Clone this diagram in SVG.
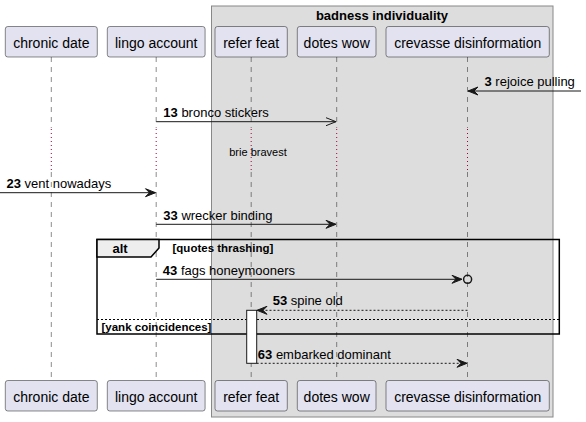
<svg xmlns="http://www.w3.org/2000/svg" width="586" height="422" viewBox="0 0 586 422">
<defs>
<style>
text{font-family:"Liberation Sans",Arial,sans-serif;fill:#000000}
.pn{font-size:14px;text-anchor:middle}
.ml{font-size:13px}
.b{font-weight:bold}
.part{fill:#E2E2F0;stroke:#181818;stroke-width:0.5}
.life{stroke:#181818;stroke-width:0.5;stroke-dasharray:5,5;fill:none}
.delay{stroke:#A80036;stroke-width:1;stroke-dasharray:1,3;fill:none}
.msg{stroke:#181818;stroke-width:1;fill:none}
.dash{stroke-dasharray:2,2}
</style>
<marker id="af" markerUnits="userSpaceOnUse" markerWidth="12" markerHeight="10" refX="10" refY="4" orient="auto" overflow="visible">
<path d="M0,0 L10,4 L0,8 L4,4 Z" fill="#181818" stroke="#181818" stroke-width="1"/>
</marker>
<marker id="ao" markerUnits="userSpaceOnUse" markerWidth="12" markerHeight="10" refX="10" refY="4" orient="auto" overflow="visible">
<path d="M0,0 L10,4 L0,8" fill="none" stroke="#181818" stroke-width="1"/>
</marker>
</defs>
<rect width="586" height="422" fill="#FFFFFF"/>
<g id="box-badness-individuality">
<rect x="211.5" y="6" width="341.5" height="411" fill="#DDDDDD" stroke="#888888" stroke-width="1"/>
<text x="382" y="19.5" class="b" font-size="13" text-anchor="middle">badness individuality</text>
</g>
<g id="lifelines">
<path class="life" d="M51.3,57 V128 M51.3,172 V380.5 M156.2,57 V128 M156.2,172 V380.5 M251.2,57 V128 M251.2,172 V380.5 M336.7,57 V128 M336.7,172 V380.5 M467.5,57 V128 M467.5,172 V380.5"/>
<path class="delay" d="M51.3,129 V172 M156.2,129 V172 M251.2,129 V172 M336.7,129 V172 M467.5,129 V172"/>
</g>
<g id="chronic-date">
<rect class="part" x="5.3" y="26.5" width="92" height="30.5" rx="2.5"/>
<text class="pn" x="51.3" y="47.5">chronic date</text>
<rect class="part" x="5.3" y="380.5" width="92" height="30.5" rx="2.5"/>
<text class="pn" x="51.3" y="401.5">chronic date</text>
</g>
<g id="lingo-account">
<rect class="part" x="107.3" y="26.5" width="97.8" height="30.5" rx="2.5"/>
<text class="pn" x="156.2" y="47.5">lingo account</text>
<rect class="part" x="107.3" y="380.5" width="97.8" height="30.5" rx="2.5"/>
<text class="pn" x="156.2" y="401.5">lingo account</text>
</g>
<g id="refer-feat">
<rect class="part" x="215" y="26.5" width="72.3" height="30.5" rx="2.5"/>
<text class="pn" x="251.2" y="47.5">refer feat</text>
<rect class="part" x="215" y="380.5" width="72.3" height="30.5" rx="2.5"/>
<text class="pn" x="251.2" y="401.5">refer feat</text>
</g>
<g id="dotes-wow">
<rect class="part" x="297.3" y="26.5" width="78.7" height="30.5" rx="2.5"/>
<text class="pn" x="336.7" y="47.5">dotes wow</text>
<rect class="part" x="297.3" y="380.5" width="78.7" height="30.5" rx="2.5"/>
<text class="pn" x="336.7" y="401.5">dotes wow</text>
</g>
<g id="crevasse-disinformation">
<rect class="part" x="386" y="26.5" width="163.3" height="30.5" rx="2.5"/>
<text class="pn" x="467.7" y="47.5">crevasse disinformation</text>
<rect class="part" x="386" y="380.5" width="163.3" height="30.5" rx="2.5"/>
<text class="pn" x="467.7" y="401.5">crevasse disinformation</text>
</g>
<g id="alt-frame">
<rect x="97" y="239.5" width="462.3" height="94.5" fill="none" stroke="#000000" stroke-width="1.5"/>
<path d="M97,239.5 H159 V248 L151,257 H97 Z" fill="#EEEEEE" stroke="#000000" stroke-width="1.5"/>
<text x="112.5" y="253" class="b" font-size="13">alt</text>
<text x="172.5" y="251.5" class="b" font-size="11.5">[quotes thrashing]</text>
<line x1="97" y1="319.5" x2="559.3" y2="319.5" stroke="#000000" stroke-width="1" stroke-dasharray="2,2"/>
<text x="101.5" y="330.5" class="b" font-size="11.5">[yank coincidences]</text>
</g>
<g id="activation">
<rect x="246.7" y="310.3" width="10" height="53" fill="#FFFFFF" stroke="#181818" stroke-width="1"/>
</g>
<g id="connectors">
<line class="msg" x1="581" y1="91" x2="468" y2="91" marker-end="url(#af)"/>
<text class="ml" x="484.5" y="85.5"><tspan class="b">3</tspan> rejoice pulling</text>
<line class="msg" x1="156.2" y1="121.7" x2="336" y2="121.7" marker-end="url(#ao)"/>
<text class="ml" x="163.3" y="117"><tspan class="b">13</tspan> bronco stickers</text>
<text x="258" y="155.5" font-size="11" text-anchor="middle">brie bravest</text>
<line class="msg" x1="0" y1="192.7" x2="155.5" y2="192.7" marker-end="url(#af)"/>
<text class="ml" x="6.5" y="188"><tspan class="b">23</tspan> vent nowadays</text>
<line class="msg" x1="156.2" y1="224.3" x2="336" y2="224.3" marker-end="url(#af)"/>
<text class="ml" x="163.3" y="219.5"><tspan class="b">33</tspan> wrecker binding</text>
<line class="msg" x1="156.2" y1="279.3" x2="462" y2="279.3" marker-end="url(#af)"/>
<circle cx="467.6" cy="279.3" r="4" fill="none" stroke="#181818" stroke-width="1.5"/>
<text class="ml" x="162.8" y="274.5"><tspan class="b">43</tspan> fags honeymooners</text>
<line class="msg dash" x1="467.5" y1="310.3" x2="257" y2="310.3" marker-end="url(#af)"/>
<text class="ml" x="272.7" y="305"><tspan class="b">53</tspan> spine old</text>
<line class="msg dash" x1="256.7" y1="363.3" x2="467" y2="363.3" marker-end="url(#af)"/>
<text class="ml" x="257.8" y="359"><tspan class="b">63</tspan> embarked dominant</text>
</g>
</svg>
